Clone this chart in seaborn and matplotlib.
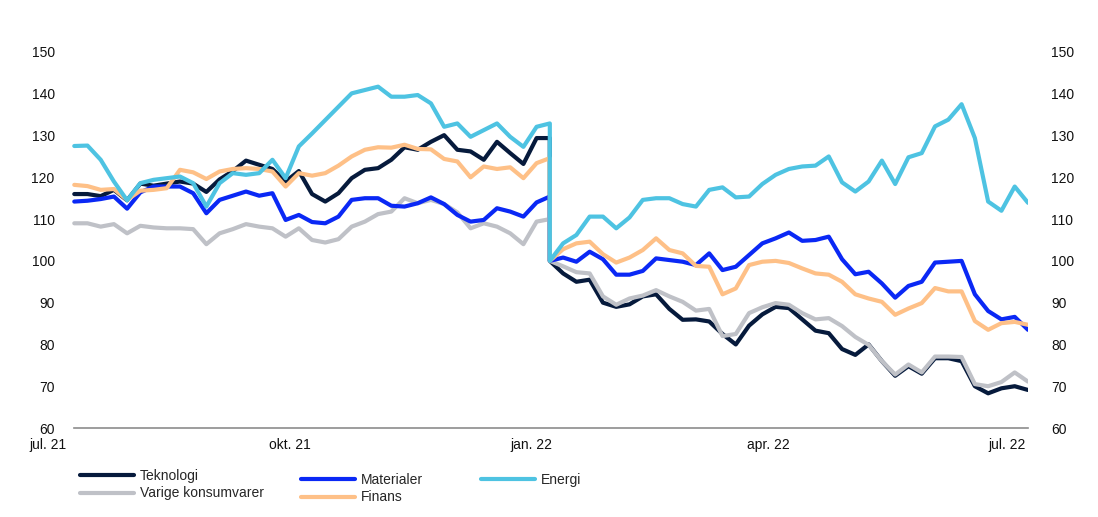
import numpy as np
import pandas as pd
import matplotlib
matplotlib.use("Agg")
import matplotlib.pyplot as plt
import matplotlib.dates as mdates
from matplotlib.lines import Line2D
import seaborn as sns

# ---------------- data ----------------
series_names = ["Teknologi", "Varige konsumvarer", "Materialer", "Finans", "Energi"]
series_colors = ["#061a3c", "#bfc1c7", "#0a28f5", "#fec087", "#4ec3e2"]

pre_dates = pd.date_range("2021-07-11", "2022-01-08", periods=37)
post_dates = pd.date_range("2022-01-08", "2022-07-09", periods=37)

tek_pre = [116, 116, 115.5, 117, 114.5, 118.5, 118, 118.5, 119, 118.5, 116.5, 119.5, 121.5,
           124, 123, 122, 119, 121.5, 116, 114.2, 116.2, 119.8, 121.8, 122.2, 124.2, 127.2,
           126.6, 128.5, 130.1, 126.6, 126.2, 124.2, 128.5, 125.8, 123.2, 129.4, 129.4]
tek_post = [100, 97.0, 95.0, 95.5, 90.0, 89.0, 89.6, 91.5, 92.0, 88.5, 85.9, 86.0, 85.5,
            82.5, 80.0, 84.5, 87.2, 89.0, 88.7, 86.0, 83.3, 82.7, 78.9, 77.5, 80.0, 76.0,
            72.5, 74.8, 73.0, 76.7, 76.7, 76.0, 70.0, 68.3, 69.5, 70.0, 69.1]

var_pre = [109.0, 109.0, 108.2, 108.8, 106.6, 108.4, 108.0, 107.8, 107.8, 107.6, 104.0,
           106.6, 107.6, 108.8, 108.2, 107.8, 105.8, 107.8, 105.0, 104.4, 105.2, 108.2,
           109.4, 111.2, 111.8, 115.0, 113.8, 114.6, 113.6, 111.6, 107.8, 109.0, 108.2,
           106.6, 104.0, 109.4, 110.0]
var_post = [100, 98.7, 97.3, 97.0, 91.5, 89.5, 91.0, 91.7, 93.0, 91.5, 90.2, 88.1, 88.5,
            82.0, 82.5, 87.5, 88.9, 89.9, 89.5, 87.5, 86.0, 86.3, 84.4, 81.8, 79.9, 76.0,
            72.8, 75.2, 73.3, 77.1, 77.1, 77.0, 70.5, 70.0, 71.0, 73.3, 71.1]

mat_pre = [114.2, 114.4, 114.8, 115.4, 112.5, 116.4, 117.8, 117.8, 117.8, 116.2, 111.4,
           114.6, 115.6, 116.6, 115.6, 116.2, 109.8, 111.0, 109.3, 109.0, 110.6, 114.6,
           115.0, 115.0, 113.2, 113.0, 113.8, 115.2, 113.6, 111.0, 109.4, 109.8, 112.6,
           111.8, 110.6, 114.0, 115.4]
mat_post = [100, 100.8, 99.8, 102.2, 100.4, 96.7, 96.7, 97.6, 100.6, 100.2, 99.8, 99.0,
            101.8, 97.8, 98.6, 101.4, 104.2, 105.4, 106.8, 104.8, 105.0, 105.8, 100.4, 96.8,
            97.4, 94.6, 91.2, 94.0, 95.0, 99.6, 99.8, 100.0, 92.0, 88.0, 86.0, 86.6, 83.5]

fin_pre = [118.2, 117.9, 117.0, 117.2, 114.6, 116.8, 117.0, 117.4, 121.8, 121.2, 119.6,
           121.4, 122.0, 122.2, 122.0, 121.4, 117.8, 121.0, 120.4, 121.0, 122.8, 125.0,
           126.6, 127.2, 127.1, 127.8, 126.8, 126.7, 124.4, 123.8, 120.0, 122.6, 122.0,
           122.4, 119.8, 123.4, 124.6]
fin_post = [100, 102.8, 104.2, 104.6, 101.6, 99.6, 100.8, 102.6, 105.4, 102.6, 101.8, 98.8,
            98.6, 92.0, 93.4, 99.0, 99.8, 100.0, 99.5, 98.2, 97.0, 96.7, 95.0, 92.0, 91.0,
            90.2, 87.1, 88.6, 89.9, 93.5, 92.7, 92.7, 85.6, 83.5, 85.1, 85.4, 84.7]

ene_pre = [127.5, 127.6, 124.2, 119.0, 114.5, 118.6, 119.4, 119.8, 120.2, 118.6, 113.0,
           118.6, 121.0, 120.6, 121.0, 124.2, 119.8, 127.4, 130.5, 133.7, 136.9, 140.1,
           140.9, 141.7, 139.3, 139.3, 139.7, 137.7, 132.1, 132.9, 129.7, 131.3, 132.9,
           129.7, 127.3, 132.1, 132.9]
ene_post = [100, 104.2, 106.2, 110.6, 110.6, 107.8, 110.4, 114.6, 115.0, 115.0, 113.6, 113.0,
            117.0, 117.6, 115.2, 115.4, 118.4, 120.6, 122.0, 122.6, 122.8, 125.0, 118.8,
            116.6, 119.0, 124.0, 118.4, 124.8, 125.8, 132.2, 133.8, 137.5, 129.4, 114.2,
            112.0, 117.8, 113.9]

tick_dates = ["2021-07-01", "2021-10-01", "2022-01-01", "2022-04-01", "2022-07-01"]
tick_labels = ["jul. 21", "okt. 21", "jan. 22", "apr. 22", "jul. 22"]
y_ticks = [60, 70, 80, 90, 100, 110, 120, 130, 140, 150]

pre_vals = [tek_pre, var_pre, mat_pre, fin_pre, ene_pre]
post_vals = [tek_post, var_post, mat_post, fin_post, ene_post]

rows = []
for name, pv, qv in zip(series_names, pre_vals, post_vals):
    for d, v in zip(pre_dates, pv):
        rows.append((d, v, name))
    for d, v in zip(post_dates, qv):
        rows.append((d, v, name))
df = pd.DataFrame(rows, columns=["date", "value", "serie"])

# ---------------- plot ----------------
sns.set_theme(style="white")
plt.rcParams["font.family"] = ["Liberation Sans", "DejaVu Sans"]

W, H = 1098, 517
fig = plt.figure(figsize=(W / 100, H / 100), dpi=100)
ax = fig.add_axes([48 / W, 89 / H, 980 / W, 376 / H])

palette = dict(zip(series_names, series_colors))
sns.lineplot(data=df, x="date", y="value", hue="serie", hue_order=series_names,
             palette=palette, estimator=None, sort=False, linewidth=3,
             legend=False, ax=ax)

ax.set_xlim(pd.Timestamp("2021-07-01"), pd.Timestamp("2022-07-09"))
ax.set_ylim(60, 150)
ax.set_yticks(y_ticks)
ax.set_xticks([pd.Timestamp(t) for t in tick_dates])
ax.set_xticklabels(tick_labels)
ax.set_xlabel("")
ax.set_ylabel("")
ax.grid(False)
for s in ["top", "right", "left"]:
    ax.spines[s].set_visible(False)
ax.spines["bottom"].set_color("#8c8c8c")
ax.spines["bottom"].set_linewidth(1.2)
ax.spines["bottom"].set_bounds(mdates.date2num(pre_dates[0]), mdates.date2num(post_dates[-1]))
ax.tick_params(axis="y", length=0, pad=-4.8, labelsize=10, labelcolor="#111111")
ax.tick_params(axis="x", length=0, pad=7, labelsize=10, labelcolor="#111111")

ax2 = ax.twinx()
ax2.set_ylim(60, 150)
ax2.set_yticks(y_ticks)
ax2.grid(False)
for s in ax2.spines.values():
    s.set_visible(False)
ax2.tick_params(axis="y", length=0, pad=16.5, labelsize=10, labelcolor="#111111")

handles = [Line2D([0], [0], color=c, lw=3) for c in series_colors]
leg_kw = dict(loc="upper left", frameon=False, handlelength=3.9, handletextpad=0.4,
              labelspacing=0.25, borderpad=0, borderaxespad=0, fontsize=10)
fig.legend(handles[0:2], series_names[0:2], bbox_to_anchor=(80 / W, 1 - 469 / H), **leg_kw)
fig.legend(handles[2:4], series_names[2:4], bbox_to_anchor=(301 / W, 1 - 473 / H), **leg_kw)
fig.legend(handles[4:5], series_names[4:5], bbox_to_anchor=(481 / W, 1 - 473 / H), **leg_kw)

fig.savefig("out.png", dpi=100)
